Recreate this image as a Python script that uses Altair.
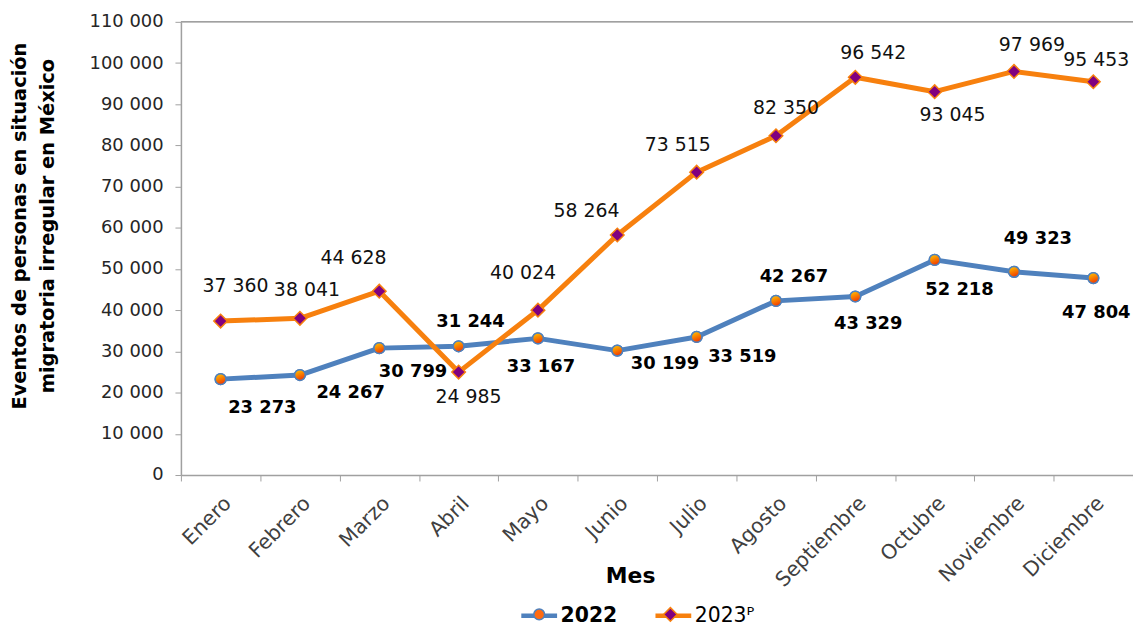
import altair as alt
import pandas as pd

months = ["Enero", "Febrero", "Marzo", "Abril", "Mayo", "Junio", "Julio",
          "Agosto", "Septiembre", "Octubre", "Noviembre", "Diciembre"]
v2022 = [23273, 24267, 30799, 31244, 33167, 30199, 33519, 42267, 43329, 52218, 49323, 47804]
v2023 = [37360, 38041, 44628, 24985, 40024, 58264, 73515, 82350, 96542, 93045, 97969, 95453]
series_names = ["2022", "2023ᴾ"]
y_ticks = [0, 10000, 20000, 30000, 40000, 50000, 60000, 70000, 80000, 90000, 100000, 110000]
y_title = ["Eventos de personas en situación", "migratoria irregular en México"]
x_title = "Mes"

# label offsets in pixels relative to each point (layout only)
dx2022 = [42, 51, 34, 12, 3, 48, 46, 18, 13, 25, 24, 3]
dy2022 = [29, 18, 24, -24, 29, 14, 20, -24, 28, 30, -33, 35]
dx2023 = [15, 7, -26, 10, -15, -31, -19, 10, 18, 18, 18, 3]
dy2023 = [-35, -28, -33, 25, -37, -24, -27, -28, -24, 23, -27, -22]

rows = []
for i, m in enumerate(months):
    rows.append(dict(month=m, idx=i, series=series_names[0], value=v2022[i], ldx=dx2022[i], ldy=dy2022[i]))
for i, m in enumerate(months):
    rows.append(dict(month=m, idx=i, series=series_names[1], value=v2023[i], ldx=dx2023[i], ldy=dy2023[i]))
df = pd.DataFrame(rows)

FONT = "DejaVu Sans"
GRAY = "#A0A0A0"
BLUE = "#4F81BD"
ORANGE = "#F7800E"
PURPLE = "#800080"
MARK_ORANGE = "#FF6A10"
# invisible move-to points keep legend symbol bounds equal to the line symbol
EXT = "M-1.1,0M1.1,0"
CIRCLE = EXT + "M0.3,0A0.3,0.3,0,1,1,-0.3,0A0.3,0.3,0,1,1,0.3,0Z"
DIAMOND = EXT + "M0,-0.38L0.38,0L0,0.38L-0.38,0Z"
SYM = 1296
LINE_SW = 4.5
MARK_SW = 1.5

x_enc = alt.X(
    "month:N", sort=months, bandPosition=0.5,
    scale=alt.Scale(type="band", domain=months, paddingInner=0, paddingOuter=0),
    axis=alt.Axis(
        title=x_title, labelAngle=-45, tickBand="extent", grid=False,
        domainColor=GRAY, tickColor=GRAY, tickSize=6, domainWidth=1.5,
        labelFont=FONT, labelFontSize=20.5, labelColor="#404040", labelPadding=12,
        titleFont=FONT, titleFontSize=22, titleFontWeight="bold", titleColor="black",
        titleX=452, titleY=101, titleBaseline="middle", titleAlign="center",
    ),
)
y_enc = alt.Y(
    "value:Q",
    scale=alt.Scale(domain=[0, 110000], nice=False),
    axis=alt.Axis(
        values=y_ticks, grid=False,
        labelExpr="replace(format(datum.value, ','), regexp(',', 'g'), ' ')",
        domainColor=GRAY, tickColor=GRAY, tickSize=6, domainWidth=1.5,
        labelFont=FONT, labelFontSize=18, labelColor="#262626", labelPadding=12,
        title=y_title, titleFont=FONT, titleFontSize=19.5, titleFontWeight="bold",
        titleColor="black", titleX=-171, titleY=205, titleAngle=-90,
        titleBaseline="top", titleAlign="center", titleLineHeight=28,
    ),
)

LEG_X = 340
LEG_Y = 577
legend_common = dict(
    title=None, orient="none", legendX=LEG_X, legendY=LEG_Y, direction="horizontal",
    symbolSize=SYM, labelFont=FONT, labelFontSize=20.5, columnPadding=28,
    labelFontWeight=alt.ExprRef("datum.label == '2022' ? 'bold' : 'normal'"),
)

top_rule = alt.Chart(pd.DataFrame({"value": [y_ticks[-1]]})).mark_rule(
    color=GRAY, strokeWidth=1.5
).encode(y=y_enc)

lines = alt.Chart(df).mark_line(strokeWidth=5, strokeJoin="round").encode(
    x=x_enc, y=y_enc,
    order=alt.Order("idx:Q"),
    stroke=alt.Stroke(
        "series:N", scale=alt.Scale(range=[BLUE, ORANGE]),
        legend=alt.Legend(symbolType="M-1,0H1", symbolStrokeWidth=LINE_SW, labelOffset=1,
                          labelColor="black", **legend_common),
    ),
)

leg2 = alt.Legend(
    symbolStrokeWidth=MARK_SW, symbolOffset=(LINE_SW - MARK_SW) / 2,
    labelOffset=1 + (LINE_SW - MARK_SW), labelColor="rgba(0,0,0,0)", **legend_common,
)
markers = alt.Chart(df).transform_calculate(series2="datum.series").mark_point(
    filled=True, size=SYM, strokeWidth=MARK_SW, opacity=1
).encode(
    x=x_enc, y=y_enc,
    shape=alt.Shape("series2:N", scale=alt.Scale(range=[CIRCLE, DIAMOND]), legend=leg2),
    fill=alt.Fill("series2:N", scale=alt.Scale(range=[MARK_ORANGE, PURPLE]), legend=leg2),
    stroke=alt.Stroke("series2:N", scale=alt.Scale(range=[BLUE, ORANGE]), legend=leg2),
)

grad = alt.Gradient(
    gradient="linear", x1=0.3, y1=0, x2=0.7, y2=1,
    stops=[alt.GradientStop(color="#FFC000", offset=0), alt.GradientStop(color="#F03000", offset=1)],
)
grad_circles = alt.Chart(df).transform_filter(
    alt.datum.series == series_names[0]
).mark_point(shape=CIRCLE, size=SYM, filled=True, fill=grad, stroke=BLUE, strokeWidth=MARK_SW, opacity=1).encode(
    x=x_enc, y=y_enc
)

label_calc = "replace(format(datum.value, ','), regexp(',', 'g'), ' ')"
text22 = alt.Chart(df).transform_filter(alt.datum.series == series_names[0]).transform_calculate(
    label=label_calc
).mark_text(
    font=FONT, fontSize=18, fontWeight="bold", color="black", baseline="middle", align="center",
    dx=alt.ExprRef("datum.ldx"), dy=alt.ExprRef("datum.ldy"),
).encode(x=x_enc, y=y_enc, text="label:N")

text23 = alt.Chart(df).transform_filter(alt.datum.series == series_names[1]).transform_calculate(
    label=label_calc
).mark_text(
    font=FONT, fontSize=19, fontWeight="normal", color="#111111", baseline="middle", align="center",
    dx=alt.ExprRef("datum.ldx"), dy=alt.ExprRef("datum.ldy"),
).encode(x=x_enc, y=y_enc, text="label:N")

chart = alt.layer(top_rule, lines, markers, grad_circles, text22, text23).resolve_scale(
    stroke="independent", shape="independent", fill="independent"
).properties(
    width=958, height=456,
    autosize=alt.AutoSizeParams(type="none"),
    padding={"left": 174, "top": 12, "right": 0, "bottom": 151},
).configure_view(stroke=None).configure(font=FONT)

chart.save("out.html", embed_options={"renderer": "svg", "actions": False})
